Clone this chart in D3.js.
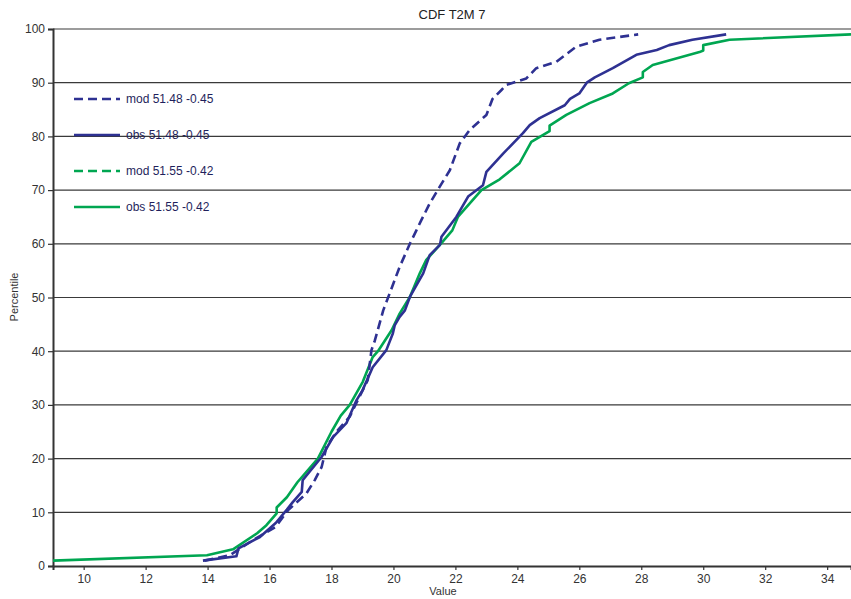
<!DOCTYPE html>
<html>
<head>
<meta charset="utf-8">
<script src="https://cdn.jsdelivr.net/npm/d3@7"></script>
<style>
  body { margin: 0; background: #fff; }
  text { font-family: "Liberation Sans", Arial, sans-serif; }
</style>
</head>
<body>
<div id="chart"></div>
<script>
// values: [value, percentile]
const modBlue = [[13.9,1],[14.72,2],[15.46,4.8],[16.2,7.3],[16.6,10.4],[17.19,13.5],[17.46,16],[17.68,18.4],
  [17.84,22.2],[18.16,25],[18.59,27.8],[18.85,30.9],[19.17,34.6],[19.29,40.2],[19.4,42],[19.67,47.6],
  [19.88,50.8],[20.2,55.7],[20.53,60],[20.74,62.5],[20.9,64.4],[21.17,67.5],[21.49,70.6],[21.82,73.7],
  [22.14,78.7],[22.46,81.2],[23.0,84],[23.2,87],[23.48,88.6],[23.65,89.6],[24.29,90.8],[24.61,92.7],
  [25.26,93.9],[25.9,96.7],[26.65,98],[27.9,99]];

const obsBlue = [[13.85,1],[14.93,1.8],[15.0,3.3],[15.69,5.4],[16.2,8],[16.56,10.5],[16.75,11.9],[17.04,13.8],
  [17.07,16],[17.68,20.3],[18.05,24],[18.48,26.6],[18.81,30.9],[19.0,32.7],[19.33,37],[19.77,40.2],
  [19.98,43.3],[20.04,44.8],[20.2,46.4],[20.37,47.6],[20.53,50.1],[20.96,54.5],[21.17,57.9],[21.5,59.8],
  [21.55,61.3],[22.03,65],[22.41,68.8],[22.89,70.9],[23.0,73.4],[23.54,76.8],[24.18,80.6],[24.4,82.1],
  [24.72,83.4],[25.53,85.8],[25.7,87],[26.0,88],[26.24,90],[26.5,91],[27.08,92.7],[27.84,95.2],
  [28.5,96.1],[28.9,97],[29.65,98],[30.74,99]];

const obsGreen = [[9.01,1],[13.98,2],[14.82,3.1],[15.6,6.1],[15.9,7.6],[16.23,9.8],[16.23,10.9],[16.56,12.8],
  [16.9,15.6],[17.56,20],[18.0,25],[18.3,28],[18.59,30],[19.01,34.3],[19.33,38.9],[19.5,40],[19.94,43.9],
  [20.2,47],[20.53,50.1],[20.85,54.5],[21.06,57],[21.5,59.8],[21.9,62.5],[22.08,65],[22.84,70],[23.43,72],
  [24.07,75],[24.45,79],[25.04,81],[25.04,82],[25.58,84],[26.33,86.2],[27.08,88],[27.6,89.9],[28.05,91],
  [28.05,92],[28.37,93.3],[29.88,95.7],[30.0,96],[30.0,97],[30.85,98],[34.77,99]];

const legendLabels = ["mod 51.48 -0.45", "obs 51.48 -0.45", "mod 51.55 -0.42", "obs 51.55 -0.42"];
const xTicks = [10,12,14,16,18,20,22,24,26,28,30,32,34];
const yTicks = [0,10,20,30,40,50,60,70,80,90,100];

const navy = "#2e3192", green = "#00a651";
const width = 851, height = 599;
const margin = {top: 29, right: 0, bottom: 33, left: 53};

const svg = d3.select("#chart").append("svg")
  .attr("width", width).attr("height", height);

const x = d3.scaleLinear().domain([9.01, 34.77]).range([margin.left, width - margin.right]);
const y = d3.scaleLinear().domain([0, 100]).range([height - margin.bottom, margin.top]);

// grid
svg.append("g").selectAll("line")
  .data(yTicks.filter(d => d > 0))
  .enter().append("line")
  .attr("x1", margin.left).attr("x2", width)
  .attr("y1", d => y(d)).attr("y2", d => y(d))
  .attr("stroke", "#3a3a3a").attr("stroke-width", 1.2);

// axes
const yAxis = svg.append("g")
  .attr("transform", `translate(${margin.left},0)`)
  .call(d3.axisLeft(y).tickValues(yTicks).tickSize(5).tickPadding(3));
const xAxis = svg.append("g")
  .attr("transform", `translate(0,${y(0)})`)
  .call(d3.axisBottom(x).tickValues(xTicks).tickSize(4).tickPadding(4));

[xAxis, yAxis].forEach(a => {
  a.select(".domain").attr("stroke", "#333").attr("stroke-width", 2);
  a.selectAll(".tick line").attr("stroke", "#333").attr("stroke-width", 1.2);
  a.selectAll(".tick text").attr("fill", "#333").style("font-size", "12px")
    .style("font-family", "'Liberation Sans', Arial, sans-serif");
});

// curves
const line = d3.line().x(d => x(d[0])).y(d => y(d[1]));

const series = [
  {data: modBlue, color: navy, dash: "9,5"},
  {data: obsBlue, color: navy, dash: null},
  {data: obsGreen, color: green, dash: null}
];

svg.append("g").selectAll("path")
  .data([series[2], series[1], series[0]])
  .enter().append("path")
  .attr("d", d => line(d.data))
  .attr("fill", "none")
  .attr("stroke", d => d.color)
  .attr("stroke-width", 2.6)
  .attr("stroke-dasharray", d => d.dash)
  .attr("stroke-linejoin", "round");

// legend
const legendStyles = [
  {color: navy, dash: "9,5"},
  {color: navy, dash: null},
  {color: green, dash: "9,5"},
  {color: green, dash: null}
];
const legendY = [99, 135, 171, 207];

const lg = svg.append("g").selectAll("g")
  .data(legendLabels)
  .enter().append("g")
  .attr("transform", (d, i) => `translate(74,${legendY[i]})`);
lg.append("line")
  .attr("x1", 0).attr("x2", 46)
  .attr("stroke", (d, i) => legendStyles[i].color)
  .attr("stroke-width", 2.6)
  .attr("stroke-dasharray", (d, i) => legendStyles[i].dash);
lg.append("text")
  .attr("x", 52).attr("y", 4)
  .attr("fill", "#1f1f5c")
  .style("font-size", "12px")
  .text(d => d);

// titles
svg.append("text")
  .attr("x", 452).attr("y", 19)
  .attr("text-anchor", "middle")
  .attr("fill", "#222")
  .style("font-size", "13px")
  .text("CDF T2M 7");

svg.append("text")
  .attr("x", 443).attr("y", 595)
  .attr("text-anchor", "middle")
  .attr("fill", "#333")
  .style("font-size", "11px")
  .text("Value");

svg.append("text")
  .attr("transform", "translate(18,297) rotate(-90)")
  .attr("text-anchor", "middle")
  .attr("fill", "#333")
  .style("font-size", "11px")
  .text("Percentile");
</script>
</body>
</html>
